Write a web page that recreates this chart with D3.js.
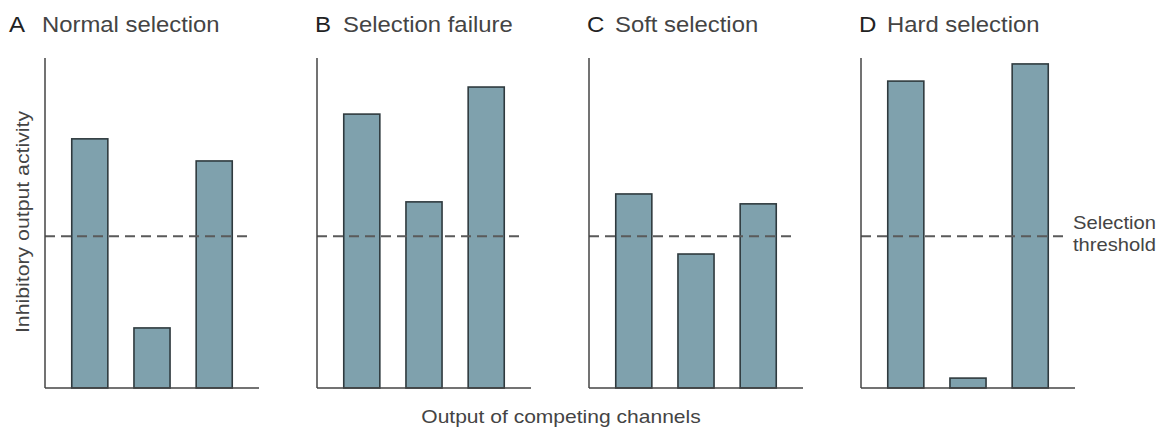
<!DOCTYPE html>
<html>
<head>
<meta charset="utf-8">
<script src="https://cdn.jsdelivr.net/npm/d3@7"></script>
<style>
  body { margin: 0; background: #fff; }
  text { font-family: "Liberation Sans", "DejaVu Sans", sans-serif; }
</style>
</head>
<body>
<div id="chart"></div>
<script>
// panel letters and titles
const letters = ["A", "B", "C", "D"];
const titles = ["Normal selection", "Selection failure", "Soft selection", "Hard selection"];
const channels = ["c1", "c2", "c3"];
// inhibitory output activity for the three channels (0 = baseline, 100 = axis top)
const activityA = [75.5, 18.2, 68.8];
const activityB = [83, 56.4, 91.2];
const activityC = [58.8, 40.6, 55.8];
const activityD = [93, 3, 98.2];
const threshold = 46;

const panels = [activityA, activityB, activityC, activityD];

const width = 1161, height = 431;
const plotTop = 58, plotBottom = 388;
const panelW = 214, panelStep = 272, firstX = 45;
const stretch = 1.12; // the original lettering is a bit wider than Liberation Sans

const svg = d3.select("#chart").append("svg")
	.attr("width", width).attr("height", height);

const y = d3.scaleLinear().domain([0, 100]).range([plotBottom, plotTop]);
const x = d3.scaleBand().domain(channels).range([0, panelW])
	.paddingInner(0.42).paddingOuter(0.43);

// text helper: places a horizontally stretched label at (tx, ty)
function label(parent, tx, ty, str, size, fill, anchor = "start", rot = 0) {
	const t = parent.append("g")
		.attr("transform", `translate(${tx},${ty}) rotate(${rot}) scale(${stretch},1)`)
		.append("text")
		.attr("text-anchor", anchor)
		.attr("font-size", size)
		.attr("fill", fill);
	if (str != null) t.text(str);
	return t;
}

panels.forEach((vals, i) => {
	const g = svg.append("g")
		.attr("transform", `translate(${firstX + i * panelStep},0)`);

	// bars
	g.selectAll("rect.bar")
		.data(vals)
		.join("rect")
		.classed("bar", true)
		.attr("x", (d, j) => x(channels[j]))
		.attr("y", d => y(d))
		.attr("width", x.bandwidth())
		.attr("height", d => y(0) - y(d))
		.attr("fill", "#7fa1ad")
		.attr("stroke", "#2f3a3e")
		.attr("stroke-width", 1.6);

	// threshold line (drawn on top of the bars)
	g.append("line")
		.attr("x1", 0).attr("x2", panelW - 8)
		.attr("y1", y(threshold)).attr("y2", y(threshold))
		.attr("stroke", "#5a5a5a")
		.attr("stroke-width", 2)
		.attr("stroke-dasharray", "10,6");

	// axes
	g.append("line")
		.attr("x1", 0).attr("x2", 0)
		.attr("y1", plotTop).attr("y2", plotBottom)
		.attr("stroke", "#444").attr("stroke-width", 1.5);
	g.append("line")
		.attr("x1", 0).attr("x2", panelW)
		.attr("y1", plotBottom).attr("y2", plotBottom)
		.attr("stroke", "#444").attr("stroke-width", 1.5);

	// title
	const lx = i === 0 ? -36 : -2;
	const tx = i === 0 ? -3 : 26;
	label(g, lx, 32, letters[i], 21.5, "#222");
	label(g, tx, 32, titles[i], 21.3, "#444");
});

// y label
label(svg, 29, 222, "Inhibitory output activity", 19, "#444", "middle", -90);

// x label
label(svg, 561, 423, "Output of competing channels", 18.8, "#444", "middle");

// threshold label
const tl = label(svg, 1073, 229, null, 18, "#444");
tl.append("tspan").attr("x", 0).text("Selection");
tl.append("tspan").attr("x", 0).attr("dy", 22).text("threshold");
</script>
</body>
</html>
